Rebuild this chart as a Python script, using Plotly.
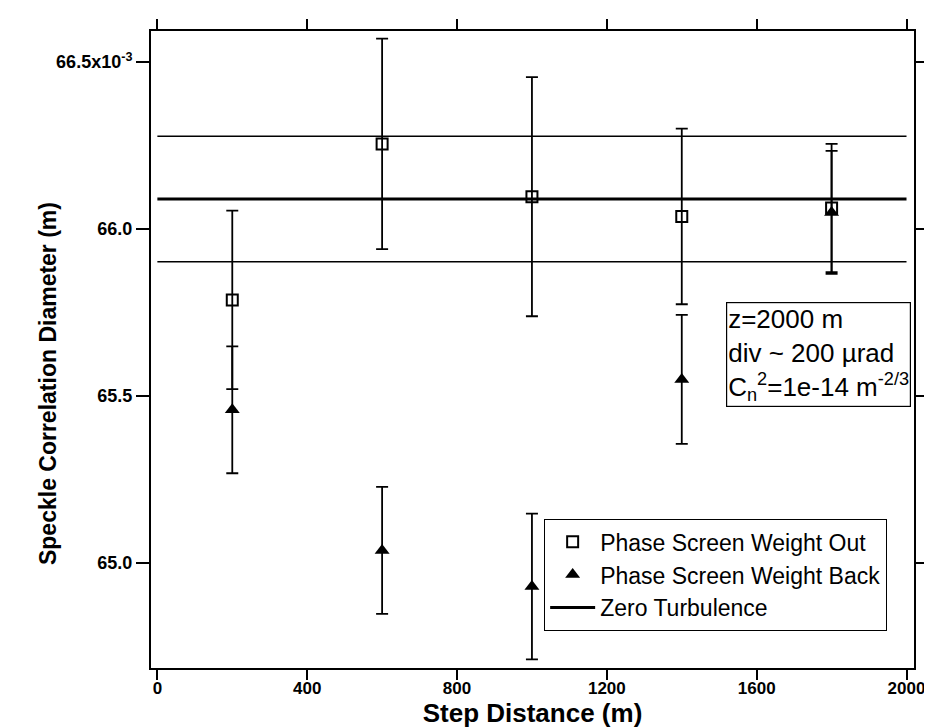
import plotly.graph_objects as go

# Values in units of 1e-3 m (axis shows 66.5x10^-3 ...)
step = [200, 600, 1000, 1400, 1800]
out_vals = [65.788, 66.255, 66.097, 66.038, 66.063]
out_err = [0.267, 0.315, 0.358, 0.263, 0.192]
back_vals = [65.459, 65.038, 64.930, 65.550, 66.050]
back_err = [0.190, 0.190, 0.218, 0.193, 0.184]
zero_x = [0, 2000]
zero_turb = 66.09
zero_err = 0.188

x_ticks = [0, 400, 800, 1200, 1600, 2000]
y_ticks = [65.0, 65.5, 66.0, 66.5]
y_ticktext = ["65.0", "65.5", "66.0", "66.5x10<sup>-3</sup>"]

FONT = "Liberation Sans, Arial, sans-serif"

fig = go.Figure()

fig.add_trace(go.Scatter(
    x=zero_x, y=[zero_turb + zero_err] * 2, mode="lines",
    line=dict(color="black", width=1.6), showlegend=False, hoverinfo="skip"))
fig.add_trace(go.Scatter(
    x=zero_x, y=[zero_turb - zero_err] * 2, mode="lines",
    line=dict(color="black", width=1.6), showlegend=False, hoverinfo="skip"))

fig.add_trace(go.Scatter(
    x=step, y=out_vals, mode="markers", name="Phase Screen Weight Out",
    marker=dict(symbol="square-open", size=11, color="black", line=dict(width=2, color="black")),
    error_y=dict(type="data", array=out_err, visible=True, color="black", thickness=1.8, width=6)))
fig.add_trace(go.Scatter(
    x=step, y=back_vals, mode="markers", name="Phase Screen Weight Back",
    marker=dict(symbol="triangle-up", size=13, color="black"),
    error_y=dict(type="data", array=back_err, visible=True, color="black", thickness=1.8, width=6)))
fig.add_trace(go.Scatter(
    x=zero_x, y=[zero_turb] * 2, mode="lines", name="Zero Turbulence",
    line=dict(color="black", width=3)))

fig.update_layout(
    width=932, height=727,
    margin=dict(l=143, r=11, t=23, b=67),
    paper_bgcolor="white", plot_bgcolor="white",
    font=dict(family=FONT, color="black"),
    showlegend=True,
    legend=dict(
        x=0.515, y=0.058, xanchor="left", yanchor="bottom",
        bgcolor="white", bordercolor="black", borderwidth=1.2,
        font=dict(family=FONT, size=23, color="black"),
        itemwidth=45, tracegroupgap=0, traceorder="normal"),
    annotations=[
        dict(
            xref="paper", yref="paper", x=0.7533, y=0.575, xanchor="left", yanchor="top",
            align="left", showarrow=False,
            text="z=2000 m<br>div ~ 200 \u00b5rad<br>C<sub>n</sub><sup>2</sup>=1e-14 m<sup>-2/3</sup>",
            font=dict(family=FONT, size=26, color="black"),
            bordercolor="black", borderwidth=1.2, borderpad=1, bgcolor="white"),
        dict(
            xref="paper", yref="paper", x=(38 - 143) / 778.0, y=(660 - 376) / 637.0,
            xanchor="center", yanchor="middle", textangle=-90, showarrow=False,
            text="Speckle Correlation Diameter (m)",
            font=dict(family=FONT, size=23, weight="bold", color="black")),
    ],
)

fig.update_xaxes(
    range=[-17, 2020], tickvals=x_ticks, ticks="outside", ticklen=10, tickwidth=2,
    tickcolor="black", showline=True, linecolor="black", linewidth=2, mirror="ticks",
    showgrid=False, zeroline=False, ticklabelstandoff=-6,
    tickfont=dict(family=FONT, size=17, weight="bold", color="black"),
    title=dict(text="Step Distance (m)", standoff=0,
               font=dict(family=FONT, size=26, weight="bold", color="black")))

fig.update_yaxes(
    range=[64.686, 66.593], tickvals=y_ticks, ticktext=y_ticktext,
    ticks="outside", ticklen=13, tickwidth=2, tickcolor="black",
    showline=True, linecolor="black", linewidth=2, mirror="ticks",
    showgrid=False, zeroline=False,
    tickfont=dict(family=FONT, size=18, weight="bold", color="black"))

fig.write_html("out.html")
